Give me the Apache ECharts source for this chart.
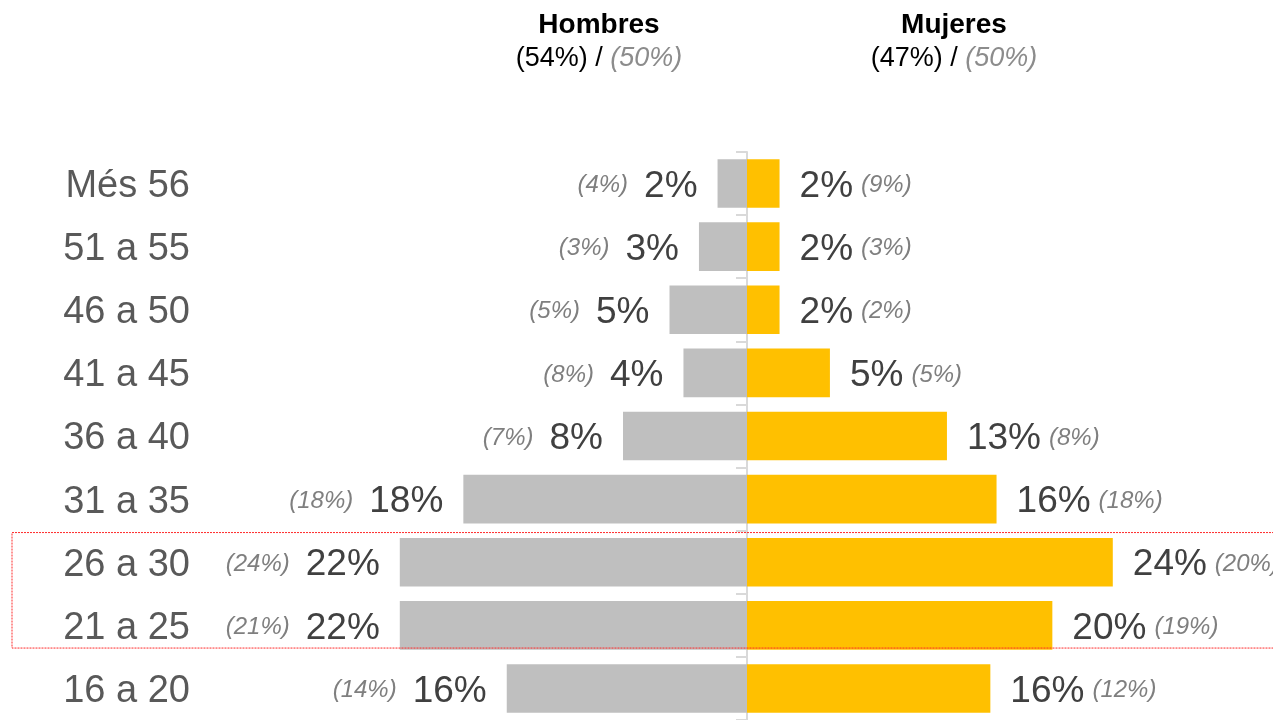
<!DOCTYPE html>
<html>
<head>
<meta charset="utf-8">
<title>Hombres / Mujeres por edad</title>
<script src="https://cdn.jsdelivr.net/npm/echarts@6/dist/echarts.min.js"></script>
<style>
  html, body { margin: 0; padding: 0; background: #fff; }
  #chart { width: 1273px; height: 720px; }
</style>
</head>
<body>
<div id="chart"></div>
<script>
// franjas de edad, de arriba abajo
const ageGroups = ['Més 56', '51 a 55', '46 a 50', '41 a 45', '36 a 40', '31 a 35', '26 a 30', '21 a 25', '16 a 20'];

// longitud de las barras (en %)
const menBars = [1.9, 3.1, 5.0, 4.1, 8.0, 18.3, 22.4, 22.4, 15.5];
const womenBars = [2.1, 2.1, 2.1, 5.35, 12.9, 16.1, 23.6, 19.7, 15.7];

// etiquetas mostradas
const menPct = [2, 3, 5, 4, 8, 18, 22, 22, 16];
const menRef = [4, 3, 5, 8, 7, 18, 24, 21, 14];
const womenPct = [2, 2, 2, 5, 13, 16, 24, 20, 16];
const womenRef = [9, 3, 2, 5, 8, 18, 20, 19, 12];

// cabeceras
const headerNames = ['Hombres', 'Mujeres'];
const headerShares = [54, 47];
const headerRefs = [50, 50];

// franjas resaltadas con el recuadro rojo
const highlighted = ['26 a 30', '21 a 25'];

const FONT = '"Liberation Sans", Arial, sans-serif';
const AXIS_GREY = '#d9d9d9';

const chart = echarts.init(document.getElementById('chart'));

function headerTitle(i, left) {
  return {
    text: '{b|' + headerNames[i] + '}\n{n|(' + headerShares[i] + '%) / }{g|(' + headerRefs[i] + '%)}',
    left: left,
    top: 4,
    textAlign: 'center',
    textStyle: {
      fontFamily: FONT,
      fontSize: 27,
      fontWeight: 'normal',
      color: '#000',
      lineHeight: 33,
      rich: {
        b: { fontFamily: FONT, fontSize: 28, fontWeight: 'bold', color: '#000', lineHeight: 33 },
        n: { fontFamily: FONT, fontSize: 27, fontWeight: 'normal', color: '#000', lineHeight: 33 },
        g: { fontFamily: FONT, fontSize: 27, fontWeight: 'normal', fontStyle: 'italic', color: '#8c8c8c', lineHeight: 33 }
      }
    }
  };
}

const labelRich = {
  v: { fontFamily: FONT, fontSize: 37, color: '#404040', verticalAlign: 'middle', padding: [6, 0, 0, 0] },
  pl: { fontFamily: FONT, fontSize: 24, fontStyle: 'italic', color: '#7f7f7f', verticalAlign: 'middle', padding: [4, 16, 0, 0] },
  pr: { fontFamily: FONT, fontSize: 24, fontStyle: 'italic', color: '#7f7f7f', verticalAlign: 'middle', padding: [4, 0, 0, 8] }
};

const option = {
  animation: false,
  backgroundColor: '#fff',
  title: [headerTitle(0, 594), headerTitle(1, 949)],
  grid: { left: 282, right: 61, top: 152, bottom: -6, containLabel: false },
  xAxis: [
    { type: 'value', min: -30, max: 30, show: false },
    // eje auxiliar solo para colocar las marcas centrales sobre el cero
    { type: 'value', min: -30, max: 30, show: false, position: 'top' }
  ],
  yAxis: [
    {
      type: 'category',
      position: 'left',
      data: ageGroups,
      inverse: true,
      axisLine: { show: false, onZero: false },
      axisTick: { show: false },
      axisLabel: {
        margin: 92,
        formatter: v => '{c|' + v + '}',
        rich: { c: { fontFamily: FONT, fontSize: 38, color: '#595959', padding: [6, 0, 0, 0] } }
      }
    },
    {
      type: 'category',
      position: 'left',
      data: ageGroups,
      inverse: true,
      axisLine: { show: true, onZero: true, onZeroAxisIndex: 0, lineStyle: { color: AXIS_GREY, width: 2 } },
      axisTick: { show: true, interval: 0, alignWithLabel: false, length: 11, lineStyle: { color: AXIS_GREY, width: 2 } },
      axisLabel: { show: false }
    },
    {
      type: 'category',
      position: 'left',
      data: ageGroups,
      inverse: true,
      axisLine: { show: false, onZero: true, onZeroAxisIndex: 1 },
      axisTick: { show: true, interval: 0, alignWithLabel: true, length: 8, lineStyle: { color: AXIS_GREY, width: 2 } },
      axisLabel: { show: false }
    }
  ],
  series: [
    {
      name: 'Hombres',
      type: 'bar',
      stack: 'piramide',
      barCategoryGap: '23%',
      data: menBars.map(v => -v),
      itemStyle: { color: '#bfbfbf' },
      label: {
        show: true,
        position: 'left',
        distance: 20,
        formatter: p => '{pl|(' + menRef[p.dataIndex] + '%)}{v|' + menPct[p.dataIndex] + '%}',
        rich: labelRich
      }
    },
    {
      name: 'Mujeres',
      type: 'bar',
      stack: 'piramide',
      barCategoryGap: '23%',
      data: womenBars,
      itemStyle: { color: '#ffc000' },
      label: {
        show: true,
        position: 'right',
        distance: 20,
        formatter: p => '{v|' + womenPct[p.dataIndex] + '%}{pr|(' + womenRef[p.dataIndex] + '%)}',
        rich: labelRich
      }
    }
  ]
};

chart.setOption(option);

// recuadro punteado alrededor de las franjas resaltadas
const yTop = chart.convertToPixel({ yAxisIndex: 0 }, highlighted[0]);
const yBottom = chart.convertToPixel({ yAxisIndex: 0 }, highlighted[highlighted.length - 1]);
const band = (yBottom - yTop) / (highlighted.length - 1);
const rectTop = yTop - band * 0.47;
const rectBottom = yBottom + band * 0.36;
chart.setOption({
  graphic: [{
    type: 'rect',
    z: 100,
    shape: { x: 12, y: rectTop, width: 1320, height: rectBottom - rectTop },
    style: { fill: 'none', stroke: '#ff2a2a', lineWidth: 1, lineDash: [2, 1] }
  }]
});

window.addEventListener('resize', () => chart.resize());
</script>
</body>
</html>
